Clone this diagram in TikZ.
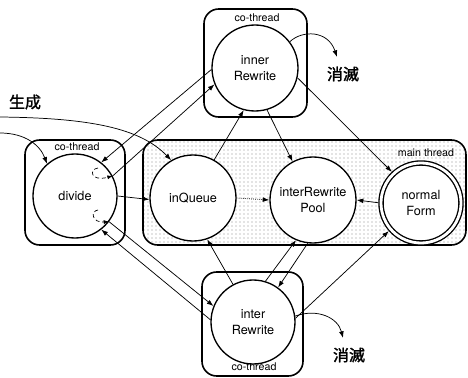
\documentclass[tikz,border=0pt]{standalone}
\usepackage{fontspec}
\setmainfont{TeX Gyre Heros}
\newfontfamily\cjkfont[FakeBold=1.5]{Noto Sans CJK JP}
\usetikzlibrary{arrows.meta,patterns,calc}

\begin{document}
\begin{tikzpicture}[x=0.75pt,y=-0.75pt,
  state/.style={circle, draw, line width=1pt, fill=white, minimum size=#1,
    inner sep=0pt, align=center, font=\fontsize{9.5}{12}\selectfont},
  thread/.style={draw, line width=1.2pt, rounded corners=11pt},
  link/.style={line width=0.55pt, -{Latex[length=5pt,width=3.6pt]}},
  curl/.style={densely dashed, line width=0.5pt, -{Latex[length=4pt,width=3pt]}},
  tag/.style={font=\fontsize{8}{9}\selectfont, inner sep=0pt},
  cjk/.style={font=\cjkfont\fontsize{12}{14}\selectfont, inner sep=0pt}]
\useasboundingbox (0,0) rectangle (468,378);

% thread boxes
\draw[thread, pattern=dots, pattern color=black!45] (143,140) rectangle (466,245);
\draw[thread, fill=white] (25,140) rectangle (125,245);
\draw[thread, fill=white] (204,9) rectangle (307,117);
\draw[thread, fill=white] (202,272) rectangle (303,376);

\node[tag] (lblD) at (77,147) {co-thread};
\node[tag] (lblI) at (257,18) {co-thread};
\node[tag] (lblB) at (254,367) {co-thread};
\node[tag] (lblM) at (426,153) {main thread};

% states
\node[state=63pt]   (divide)  at (75,196)  {divide};
\node[state=64.5pt] (inQueue) at (193,198) {inQueue};
\node[state=64.5pt] (pool)    at (313,200) {interRewrite\\Pool};
\node[state=60pt, double, double distance=2.1pt] (normal) at (421,203) {normal\\Form};
\node[state=64.5pt] (inner)   at (255,68)  {inner\\Rewrite};
\node[state=63pt]   (inter)   at (253,322) {inter\\Rewrite};

% creation / vanishing labels
\node[cjk] (gen)  at (25,102)  {生成};
\node[cjk] (van1) at (343,74)  {消滅};
\node[cjk] (van2) at (349,355) {消滅};

\coordinate (srcA) at (0,117);
\coordinate (srcB) at (0,133);
\coordinate (endU) at (337,57);
\coordinate (endB) at (343,338);
\coordinate (curlU) at (98,168);
\coordinate (curlL) at (98,210);

% incoming
\draw[link] (srcA) .. controls (90,118) and (140,128) .. (inQueue.120);
\draw[link] (srcB) .. controls (25,133) and (40,145) .. (divide.131);

% divide and its co-threads
\draw[link] (divide.0) -- (inQueue.182);
\draw[link] (inner.182) -- (divide.52);
\draw[link] (divide.28) -- (inner.202);
\draw[link] (inter.177) -- (divide.-52);
\draw[link] (divide.-37) -- (inter.158);
\draw[curl] (curlU) .. controls (89,169) and (90,182) .. (divide.28);
\draw[curl] (curlL) .. controls (90,211) and (92,223) .. (divide.-37);

% inner rewrite
\draw[link] (inQueue.61) -- (inner.255);
\draw[link] (inner.286) -- (pool.118);
\draw[link, shorten >=1.5pt] (inner.347) -- (normal.133);
\draw[link] (inner.37) .. controls (302,30) and (328,30) .. (endU);

% main thread
\draw[link, densely dotted] (inQueue.0) -- (pool.180);
\draw[link, shorten <=1.5pt] (normal.180) -- (pool.0);

% inter rewrite
\draw[link] (inter.118) -- (inQueue.-71);
\draw[link] (inter.73) -- (pool.-113);
\draw[link] (pool.-97) -- (inter.54);
\draw[link, shorten >=1.5pt] (inter.5) -- (normal.221);
\draw[link] (inter.8) .. controls (318,308) and (338,318) .. (endB);
\end{tikzpicture}
\end{document}
